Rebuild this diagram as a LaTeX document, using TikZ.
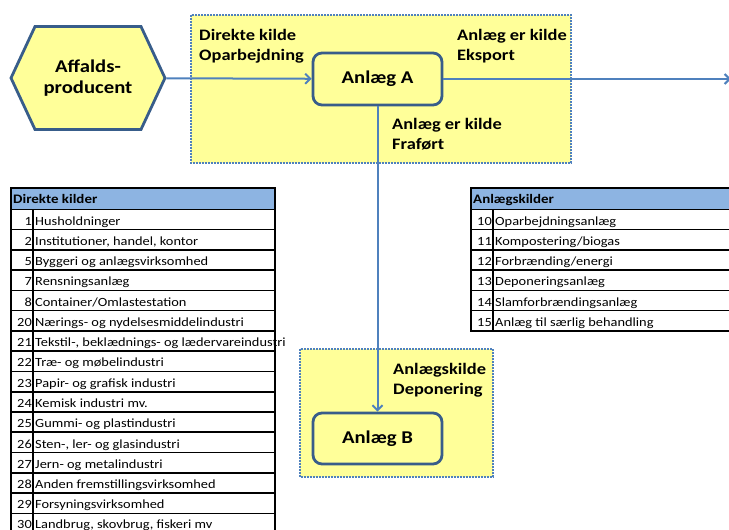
\documentclass[tikz,border=0pt]{standalone}
\usepackage{fontspec}
\setmainfont[FakeStretch=1.15]{Carlito}
\usetikzlibrary{arrows.meta,shapes.symbols}
\definecolor{gelb}{RGB}{255,255,153}
\definecolor{linieblaa}{RGB}{79,129,189}
\definecolor{kantblaa}{RGB}{56,93,138}
\definecolor{hovedblaa}{RGB}{141,180,226}

\begin{document}
\begin{tikzpicture}[x=1pt,y=-1pt,
  zone/.style={draw=linieblaa,fill=gelb,dash pattern=on 2pt off 1pt,line width=1.5pt},
  anlaeg/.style={draw=kantblaa,fill=gelb,rounded corners=9pt,line width=2.8pt,minimum width=129pt,minimum height=52pt,font=\fontsize{18}{22}\selectfont\bfseries},
  pil/.style={draw=linieblaa,line width=2pt,-{Straight Barb[length=5pt,width=10pt]}},
  etiket/.style={anchor=north west,align=left,inner sep=0pt,font=\fontsize{16}{20.5}\selectfont\bfseries},
  celle/.style={inner sep=0pt,font=\fontsize{12.5}{14}\selectfont},
  hoved/.style={inner sep=0pt,anchor=base west,font=\fontsize{13}{14}\selectfont\bfseries},
  tabel/.style={draw=black,line width=1.6pt}]
   \useasboundingbox (0,0) rectangle (729,530);
   \clip (0,0) rectangle (729,530);

   % gule zoner
   \draw[zone] (191,15) rectangle (571,163);
   \draw[zone] (300,349) rectangle (493,477);

   % producent og anlaeg
   \node[shape=signal,signal to=west and east,signal pointer angle=130,draw=kantblaa,fill=gelb,line width=2.8pt,
         minimum width=154pt,minimum height=103pt,align=center,font=\fontsize{18}{21}\selectfont\bfseries] (prod) at (88,78) {Affalds-\\producent};
   \node[anlaeg] (anlA) at (377.5,79) {Anlæg A};
   \node[anlaeg,minimum height=51pt] (anlB) at (377.5,438.5) {Anlæg B};
   \coordinate (eksport) at (731,79);

   \draw[pil] (prod) -- (anlA);
   \draw[pil] (anlA) -- (eksport);
   \draw[pil] (anlA) -- (anlB);

   \node[etiket] (l1) at (199,29) {Direkte kilde\\Oparbejdning};
   \node[etiket] (l2) at (457,29) {Anlæg er kilde\\Eksport};
   \node[etiket] (l3) at (392,118) {Anlæg er kilde\\Fraført};
   \node[etiket] (l4) at (393,363) {Anlægskilde\\Deponering};

   % tabel direkte kilder
   \fill[hovedblaa] (11,188) rectangle (275,209.3);
   \node[hoved] (h1) at (13,203) {Direkte kilder};
   \draw[tabel] (11,188) rectangle (275,540);
   \draw[tabel] (11,209.3) -- (275,209.3);
   \draw[tabel] (33,209.3) -- (33,540);
   \foreach \i in {1,...,16}
     \draw[tabel] (11,209.3+20.27*\i) -- (275,209.3+20.27*\i);

   \node[celle,anchor=base east] (n1) at (32,225) {1};
   \node[celle,anchor=base west] (t1) at (35,225) {Husholdninger};
   \node[celle,anchor=base east] (n2) at (32,245.3) {2};
   \node[celle,anchor=base west] (t2) at (35,245.3) {Institutioner, handel, kontor};
   \node[celle,anchor=base east] (n5) at (32,265.5) {5};
   \node[celle,anchor=base west] (t5) at (35,265.5) {Byggeri og anlægsvirksomhed};
   \node[celle,anchor=base east] (n7) at (32,285.8) {7};
   \node[celle,anchor=base west] (t7) at (35,285.8) {Rensningsanlæg};
   \node[celle,anchor=base east] (n8) at (32,306.1) {8};
   \node[celle,anchor=base west] (t8) at (35,306.1) {Container/Omlastestation};
   \node[celle,anchor=base east] (n20) at (32,326.4) {20};
   \node[celle,anchor=base west] (t20) at (35,326.4) {Nærings- og nydelsesmiddelindustri};
   \node[celle,anchor=base east] (n21) at (32,346.6) {21};
   \node[celle,anchor=base west] (t21) at (35,346.6) {Tekstil-, beklædnings- og lædervareindustri};
   \node[celle,anchor=base east] (n22) at (32,366.9) {22};
   \node[celle,anchor=base west] (t22) at (35,366.9) {Træ- og møbelindustri};
   \node[celle,anchor=base east] (n23) at (32,387.2) {23};
   \node[celle,anchor=base west] (t23) at (35,387.2) {Papir- og grafisk industri};
   \node[celle,anchor=base east] (n24) at (32,407.4) {24};
   \node[celle,anchor=base west] (t24) at (35,407.4) {Kemisk industri mv.};
   \node[celle,anchor=base east] (n25) at (32,427.7) {25};
   \node[celle,anchor=base west] (t25) at (35,427.7) {Gummi- og plastindustri};
   \node[celle,anchor=base east] (n26) at (32,448) {26};
   \node[celle,anchor=base west] (t26) at (35,448) {Sten-, ler- og glasindustri};
   \node[celle,anchor=base east] (n27) at (32,468.3) {27};
   \node[celle,anchor=base west] (t27) at (35,468.3) {Jern- og metalindustri};
   \node[celle,anchor=base east] (n28) at (32,488.5) {28};
   \node[celle,anchor=base west] (t28) at (35,488.5) {Anden fremstillingsvirksomhed};
   \node[celle,anchor=base east] (n29) at (32,508.8) {29};
   \node[celle,anchor=base west] (t29) at (35,508.8) {Forsyningsvirksomhed};
   \node[celle,anchor=base east] (n30) at (32,528.5) {30};
   \node[celle,anchor=base west] (t30) at (35,528.5) {Landbrug, skovbrug, fiskeri mv};

   % tabel anlaegskilder
   \fill[hovedblaa] (471,188) rectangle (735,209.3);
   \node[hoved] (h2) at (473,203) {Anlægskilder};
   \draw[tabel] (471,188) rectangle (735,331);
   \draw[tabel] (471,209.3) -- (735,209.3);
   \draw[tabel] (493,209.3) -- (493,331);
   \foreach \i in {1,...,5}
     \draw[tabel] (471,209.3+20.27*\i) -- (735,209.3+20.27*\i);

   \node[celle,anchor=base east] (n10) at (492,225) {10};
   \node[celle,anchor=base west] (t10) at (495,225) {Oparbejdningsanlæg};
   \node[celle,anchor=base east] (n11) at (492,245.3) {11};
   \node[celle,anchor=base west] (t11) at (495,245.3) {Kompostering/biogas};
   \node[celle,anchor=base east] (n12) at (492,265.5) {12};
   \node[celle,anchor=base west] (t12) at (495,265.5) {Forbrænding/energi};
   \node[celle,anchor=base east] (n13) at (492,285.8) {13};
   \node[celle,anchor=base west] (t13) at (495,285.8) {Deponeringsanlæg};
   \node[celle,anchor=base east] (n14) at (492,306.1) {14};
   \node[celle,anchor=base west] (t14) at (495,306.1) {Slamforbrændingsanlæg};
   \node[celle,anchor=base east] (n15) at (492,326.4) {15};
   \node[celle,anchor=base west] (t15) at (495,326.4) {Anlæg til særlig behandling};
\end{tikzpicture}
\end{document}
